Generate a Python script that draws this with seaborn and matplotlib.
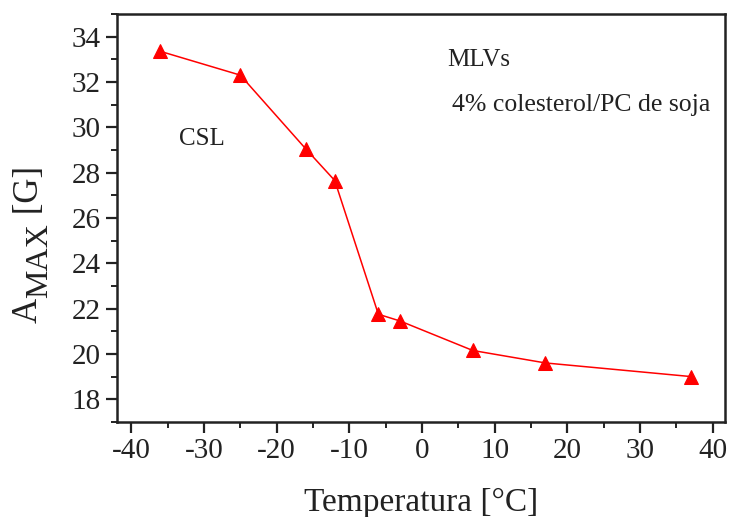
import matplotlib
matplotlib.use("Agg")
import matplotlib.pyplot as plt
from matplotlib.ticker import MultipleLocator
import pandas as pd
import seaborn as sns

temperatura = [-36, -25, -16, -12, -6, -3, 7, 17, 37]
amax = [33.35, 32.3, 29.05, 27.65, 21.75, 21.45, 20.15, 19.6, 19.0]

sns.set_style("ticks")
plt.rcParams['font.family'] = ['Liberation Serif', 'DejaVu Serif']
plt.rcParams['axes.unicode_minus'] = False

df = pd.DataFrame({"T": temperatura, "A": amax})

W, H = 730, 517
fig = plt.figure(figsize=(W / 100, H / 100), dpi=100)
ax = fig.add_axes([0.160, 0.184, 0.833, 0.789])

sns.lineplot(data=df, x="T", y="A", ax=ax, color="#ff0000", linewidth=1.1,
             marker="^", markersize=9.5, markeredgecolor="#ff0000", sort=False)

ax.set_xlim(-42, 41.7)
ax.set_ylim(17, 35)
ax.xaxis.set_major_locator(MultipleLocator(10))
ax.xaxis.set_minor_locator(MultipleLocator(5))
ax.yaxis.set_major_locator(MultipleLocator(2))
ax.yaxis.set_minor_locator(MultipleLocator(1))
ax.tick_params(which="major", length=8, width=1.6, labelsize=21, color="#222222", labelcolor="#222222")
ax.tick_params(which="minor", length=4, width=1.4, color="#222222")
for s in ax.spines.values():
    s.set_linewidth(1.8)
    s.set_color("#222222")

ax.set_xlabel("Temperatura [°C]", fontsize=24, color="#222222", labelpad=17)
ax.set_ylabel("")

ax.text(-33.4, 29.5, "CSL", fontsize=18, va="center", ha="left", color="#222222")
ax.text(3.5, 32.97, "MLVs", fontsize=18, va="center", ha="left", color="#222222")
ax.text(4.2, 31.0, "4% colesterol/PC de soja", fontsize=18.5, va="center", ha="left", color="#222222")

# y label: A with a lowered (not shrunk) MAX, then [G]
renderer = fig.canvas.get_renderer()
y0 = 323
pieces = [("A", 37, 25), ("MAX", 47, 23), (" [G]", 38, 25)]
for txt, xb, fs in pieces:
    t = fig.text(xb / W, 1 - y0 / H, txt, rotation=90, rotation_mode="anchor",
                 ha="left", va="baseline", fontsize=fs, color="#222222")
    y0 -= t.get_window_extent(renderer).height

fig.savefig("out.png", dpi=100)
